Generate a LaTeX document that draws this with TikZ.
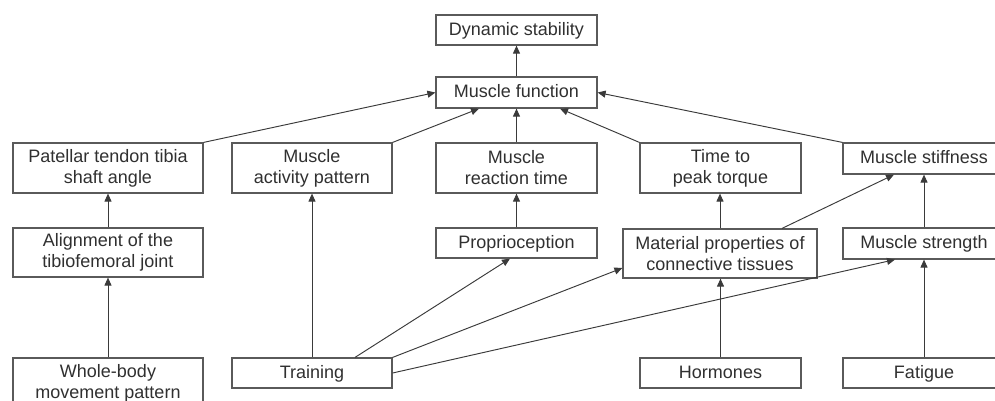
\documentclass[tikz,border=0pt]{standalone}
\usepackage{fontspec}
\setmainfont{Liberation Sans}
\usetikzlibrary{arrows.meta,calc}
\definecolor{boxc}{HTML}{5A5A5A}
\definecolor{linec}{HTML}{3A3A3A}
\definecolor{txtc}{HTML}{303030}
\begin{document}
\begin{tikzpicture}[x=1pt,y=-1pt,
  box/.style={draw=boxc, line width=1.2pt, fill=white, inner sep=0pt, align=center,
    text=txtc, font=\fontsize{18}{21}\selectfont},
  one/.style={text height=13pt, text depth=3pt},
  conn/.style={draw=linec, line width=0.95pt, -{Triangle[length=8pt,width=7pt]}}]
\useasboundingbox (0,0) rectangle (995,400);
\clip (0,0) rectangle (995,400);
% nodes
\node[box, one, minimum width=161, minimum height=30] (ds) at (516.5,30) {Dynamic stability};
\node[box, one, minimum width=161, minimum height=31] (mf) at (516.5,92.5) {Muscle function};
\node[box, minimum width=161, minimum height=50] (mrt) at (516.5,168) {Muscle\\reaction time};
\node[box, minimum width=161, minimum height=50] (time) at (720.5,168) {Time to\\peak torque};
\node[box, one, minimum width=162, minimum height=31] (stiff) at (924,158.5) {Muscle stiffness};
\node[box, minimum width=190, minimum height=50] (pat) at (108,168) {Patellar tendon tibia\\shaft angle};
\node[box, minimum width=160, minimum height=50] (map) at (312,168) {Muscle\\activity pattern};
\node[box, minimum width=190, minimum height=49] (align) at (108,252.5) {Alignment of the\\tibiofemoral joint};
\node[box, one, minimum width=161, minimum height=30] (prop) at (516.5,243) {Proprioception};
\node[box, minimum width=194, minimum height=49] (mat) at (720,253.5) {Material properties of\\connective tissues};
\node[box, one, minimum width=162, minimum height=31] (str) at (924,243.5) {Muscle strength};
\node[box, minimum width=190, minimum height=50] (whole) at (108,383) {Whole-body\\movement pattern};
\node[box, one, minimum width=160, minimum height=30] (train) at (312,373) {Training};
\node[box, one, minimum width=161, minimum height=30] (horm) at (720.5,373) {Hormones};
\node[box, one, minimum width=162, minimum height=30] (fat) at (924,373) {Fatigue};
% connectors
\draw[conn] (pat.north east) -- (mf.west);
\draw[conn] (map.north east) -- ([xshift=-37.5pt]mf.south);
\draw[conn] (mrt.north) -- (mf.south);
\draw[conn] (time.north west) -- ([xshift=43.5pt]mf.south);
\draw[conn] (stiff.north west) -- (mf.east);
\draw[conn] (mf.north) -- (ds.south);
\draw[conn] (align.north) -- (pat.south);
\draw[conn] (whole.north) -- (align.south);
\draw[conn] (train.north) -- (map.south);
\draw[conn] ([xshift=43pt]train.north) -- ([xshift=-6.5pt]prop.south);
\draw[conn] (train.north east) -- ([yshift=-14.5pt]mat.west);
\draw[conn] (train.east) -- ([xshift=-29pt]str.south);
\draw[conn] ([xshift=62pt]mat.north) -- ([xshift=-30pt]stiff.south);
\draw[conn] (mat.north) -- (mat.north |- time.south);
\draw[conn] (horm.north) -- (horm.north |- mat.south);
\draw[conn] (prop.north) -- (mrt.south);
\draw[conn] (str.north) -- (stiff.south);
\draw[conn] (fat.north) -- (str.south);
\end{tikzpicture}
\end{document}
